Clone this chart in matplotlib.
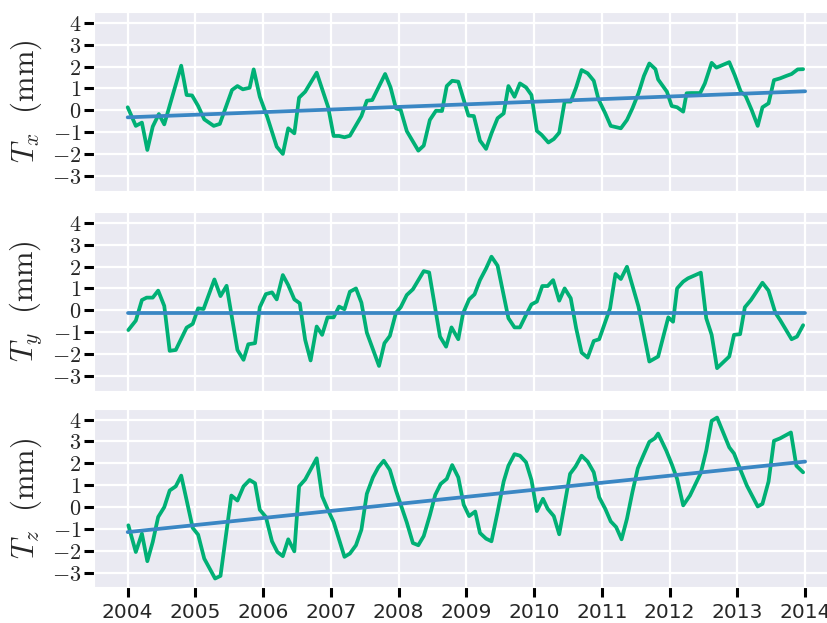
import matplotlib
matplotlib.use("Agg")
import matplotlib.pyplot as plt
import numpy as np
import seaborn as sns
from matplotlib.ticker import FuncFormatter

sns.set_style("darkgrid")
plt.rcParams["mathtext.fontset"] = "cm"
plt.rcParams["font.family"] = ["DejaVu Sans"]

# geocenter motion, decimal years / mm
tx_t = [2004.00, 2004.12, 2004.21, 2004.29, 2004.37, 2004.46, 2004.54, 2004.79, 2004.87, 2004.95,
        2005.04, 2005.13, 2005.27, 2005.36, 2005.54, 2005.62, 2005.70, 2005.80, 2005.86, 2005.95,
        2006.06, 2006.20, 2006.29, 2006.37, 2006.46, 2006.53, 2006.62, 2006.79, 2006.96, 2007.04,
        2007.12, 2007.20, 2007.28, 2007.45, 2007.53, 2007.61, 2007.80, 2007.88, 2007.96, 2008.03,
        2008.12, 2008.29, 2008.37, 2008.46, 2008.55, 2008.64, 2008.71, 2008.79, 2008.88, 2009.03,
        2009.11, 2009.20, 2009.29, 2009.37, 2009.46, 2009.55, 2009.62, 2009.71, 2009.79, 2009.88,
        2009.96, 2010.04, 2010.11, 2010.21, 2010.29, 2010.37, 2010.45, 2010.54, 2010.62, 2010.70,
        2010.79, 2010.88, 2010.95, 2011.05, 2011.13, 2011.28, 2011.37, 2011.45, 2011.54, 2011.62,
        2011.70, 2011.79, 2011.83, 2011.96, 2012.03, 2012.11, 2012.20, 2012.25, 2012.32, 2012.45,
        2012.52, 2012.62, 2012.69, 2012.88, 2012.96, 2013.05, 2013.12, 2013.21, 2013.30, 2013.37,
        2013.46, 2013.54, 2013.63, 2013.72, 2013.80, 2013.89, 2013.97]
tx_v = [0.14, -0.71, -0.56, -1.81, -0.74, -0.17, -0.64, 2.04, 0.70, 0.68,
        0.20, -0.41, -0.71, -0.62, 0.93, 1.11, 0.96, 1.03, 1.87, 0.62,
        -0.30, -1.66, -1.99, -0.82, -1.05, 0.58, 0.85, 1.72, 0.14, -1.17,
        -1.17, -1.23, -1.16, -0.26, 0.44, 0.47, 1.66, 1.05, 0.09, 0.02,
        -0.95, -1.84, -1.61, -0.44, -0.02, -0.03, 1.11, 1.35, 1.31, -0.24,
        -0.26, -1.38, -1.76, -1.05, -0.36, -0.14, 1.11, 0.62, 1.23, 1.05,
        0.70, -0.94, -1.12, -1.47, -1.31, -1.02, 0.40, 0.40, 1.05, 1.84,
        1.69, 1.35, 0.50, -0.14, -0.71, -0.82, -0.44, 0.09, 0.78, 1.57,
        2.14, 1.88, 1.41, 0.85, 0.20, 0.14, -0.06, 0.78, 0.79, 0.79,
        1.23, 2.17, 1.95, 2.20, 1.61, 0.85, 0.67, 0.02, -0.71, 0.14,
        0.32, 1.38, 1.46, 1.57, 1.66, 1.87, 1.88]

ty_t = [2004.01, 2004.12, 2004.21, 2004.28, 2004.37, 2004.45, 2004.54, 2004.62, 2004.71, 2004.87,
        2004.96, 2005.04, 2005.12, 2005.28, 2005.37, 2005.46, 2005.62, 2005.71, 2005.78, 2005.88,
        2005.95, 2006.04, 2006.13, 2006.20, 2006.29, 2006.37, 2006.46, 2006.54, 2006.62, 2006.70,
        2006.79, 2006.87, 2006.95, 2007.04, 2007.12, 2007.20, 2007.28, 2007.37, 2007.45, 2007.53,
        2007.71, 2007.79, 2007.87, 2007.96, 2008.03, 2008.12, 2008.21, 2008.37, 2008.45, 2008.61,
        2008.70, 2008.78, 2008.88, 2008.95, 2009.04, 2009.12, 2009.20, 2009.29, 2009.37, 2009.46,
        2009.62, 2009.71, 2009.79, 2009.88, 2009.96, 2010.04, 2010.12, 2010.20, 2010.28, 2010.37,
        2010.45, 2010.54, 2010.62, 2010.70, 2010.79, 2010.88, 2010.96, 2011.12, 2011.20, 2011.28,
        2011.37, 2011.54, 2011.70, 2011.83, 2011.98, 2012.05, 2012.11, 2012.20, 2012.27, 2012.46,
        2012.54, 2012.62, 2012.70, 2012.88, 2012.95, 2013.04, 2013.11, 2013.20, 2013.37, 2013.46,
        2013.56, 2013.63, 2013.80, 2013.88, 2013.97]
ty_v = [-0.90, -0.47, 0.47, 0.58, 0.58, 0.90, 0.20, -1.85, -1.81, -0.79,
        -0.62, 0.09, 0.06, 1.41, 0.65, 1.12, -1.81, -2.26, -1.55, -1.50,
        0.14, 0.74, 0.82, 0.50, 1.61, 1.15, 0.50, 0.32, -1.35, -2.29,
        -0.74, -1.12, -0.32, -0.32, 0.17, 0.05, 0.85, 1.00, 0.35, -1.02,
        -2.54, -1.50, -1.17, -0.11, 0.14, 0.70, 0.96, 1.79, 1.73, -1.20,
        -1.66, -0.78, -1.32, -0.14, 0.50, 0.73, 1.38, 1.91, 2.45, 2.04,
        -0.36, -0.78, -0.78, -0.21, 0.27, 0.40, 1.11, 1.11, 1.38, 0.44,
        1.00, 0.55, -0.82, -1.93, -2.16, -1.40, -1.32, 0.09, 1.66, 1.43,
        1.99, 0.17, -2.34, -2.11, -0.32, -0.52, 1.00, 1.31, 1.46, 1.72,
        -0.36, -1.12, -2.64, -2.11, -1.12, -1.09, 0.14, 0.47, 1.26, 0.90,
        -0.11, -0.44, -1.32, -1.20, -0.68]

tz_t = [2004.01, 2004.12, 2004.21, 2004.29, 2004.37, 2004.45, 2004.54, 2004.62, 2004.71, 2004.79,
        2004.96, 2005.04, 2005.13, 2005.29, 2005.37, 2005.53, 2005.62, 2005.71, 2005.80, 2005.88,
        2005.95, 2006.04, 2006.13, 2006.21, 2006.29, 2006.37, 2006.46, 2006.53, 2006.62, 2006.79,
        2006.87, 2006.96, 2007.04, 2007.20, 2007.28, 2007.37, 2007.45, 2007.53, 2007.62, 2007.70,
        2007.78, 2007.87, 2007.96, 2008.12, 2008.21, 2008.29, 2008.37, 2008.46, 2008.54, 2008.62,
        2008.71, 2008.79, 2008.88, 2008.96, 2009.04, 2009.13, 2009.20, 2009.29, 2009.37, 2009.46,
        2009.55, 2009.62, 2009.71, 2009.79, 2009.88, 2009.96, 2010.04, 2010.13, 2010.20, 2010.29,
        2010.37, 2010.53, 2010.61, 2010.70, 2010.79, 2010.88, 2010.96, 2011.05, 2011.13, 2011.21,
        2011.29, 2011.37, 2011.45, 2011.53, 2011.61, 2011.70, 2011.78, 2011.83, 2011.95, 2012.03,
        2012.11, 2012.20, 2012.30, 2012.46, 2012.54, 2012.62, 2012.70, 2012.79, 2012.88, 2012.95,
        2013.04, 2013.14, 2013.30, 2013.37, 2013.46, 2013.54, 2013.63, 2013.79, 2013.87, 2013.97]
tz_v = [-0.83, -2.05, -1.21, -2.47, -1.59, -0.45, 0.00, 0.76, 0.95, 1.44,
        -0.95, -1.26, -2.35, -3.26, -3.14, 0.53, 0.30, 0.95, 1.24, 1.09,
        -0.12, -0.45, -1.56, -2.05, -2.24, -1.47, -2.02, 0.95, 1.26, 2.23,
        0.50, -0.15, -0.68, -2.27, -2.12, -1.74, -1.03, 0.61, 1.36, 1.82,
        2.12, 1.70, 0.76, -0.70, -1.64, -1.74, -1.32, -0.38, 0.56, 1.06,
        1.29, 1.92, 1.36, 0.11, -0.41, -0.20, -1.18, -1.44, -1.56, -0.23,
        1.17, 1.89, 2.42, 2.35, 2.05, 1.24, -0.18, 0.38, -0.08, -0.41,
        -1.24, 1.52, 1.85, 2.35, 2.08, 1.59, 0.45, -0.08, -0.65, -0.91,
        -1.47, -0.53, 0.68, 1.77, 2.35, 2.98, 3.14, 3.36, 2.58, 1.97,
        1.29, 0.08, 0.53, 1.56, 2.58, 3.94, 4.09, 3.41, 2.73, 2.45,
        1.74, 0.98, 0.03, 0.15, 1.17, 3.03, 3.14, 3.41, 1.89, 1.59]

# linear trends: value at 2004.0 and 2014.0
trend_t = [2004.0, 2014.0]
tx_trend = [-0.32, 0.87]
ty_trend = [-0.13, -0.13]
tz_trend = [-1.14, 2.08]

labels = [r"$T_x~~(\mathrm{mm})$", r"$T_y~~(\mathrm{mm})$", r"$T_z~~(\mathrm{mm})$"]
series = [(tx_t, tx_v, tx_trend), (ty_t, ty_v, ty_trend), (tz_t, tz_v, tz_trend)]
years = list(range(2004, 2015))

green = "#00b075"
blue = "#3a87c4"

fig = plt.figure(figsize=(8.28, 6.23), dpi=100)
bottoms = [0.6939, 0.3729, 0.0570]
height = 0.2868
left, width = 0.1133, 0.9000

for i, (t, v, tr) in enumerate(series):
    ax = fig.add_axes([left, bottoms[i], width, height])
    ax.plot(t, v, color=green, lw=2.7, solid_joinstyle="round")
    ax.plot(trend_t, tr, color=blue, lw=2.7)
    ax.set_xlim(2003.5, 2014.5)
    ax.set_ylim(-3.67, 4.49)
    ax.set_yticks(range(-3, 5))
    ax.yaxis.set_major_formatter(FuncFormatter(lambda y, pos: r"$%d$" % y))
    ax.set_xticks(years)
    ax.grid(color="white", lw=1.6)
    ax.tick_params(axis="y", left=True, length=7, width=2.2, color="black",
                   labelsize=16, pad=2)
    if i < 2:
        ax.tick_params(axis="x", bottom=False, labelbottom=False)
    else:
        ax.set_xticklabels([str(y) for y in years])
        ax.tick_params(axis="x", bottom=True, length=7, width=2.2, color="black",
                       labelsize=14.5, pad=4)
    ax.set_ylabel(labels[i], fontsize=22, labelpad=6)

fig.savefig("out.png", dpi=100)
